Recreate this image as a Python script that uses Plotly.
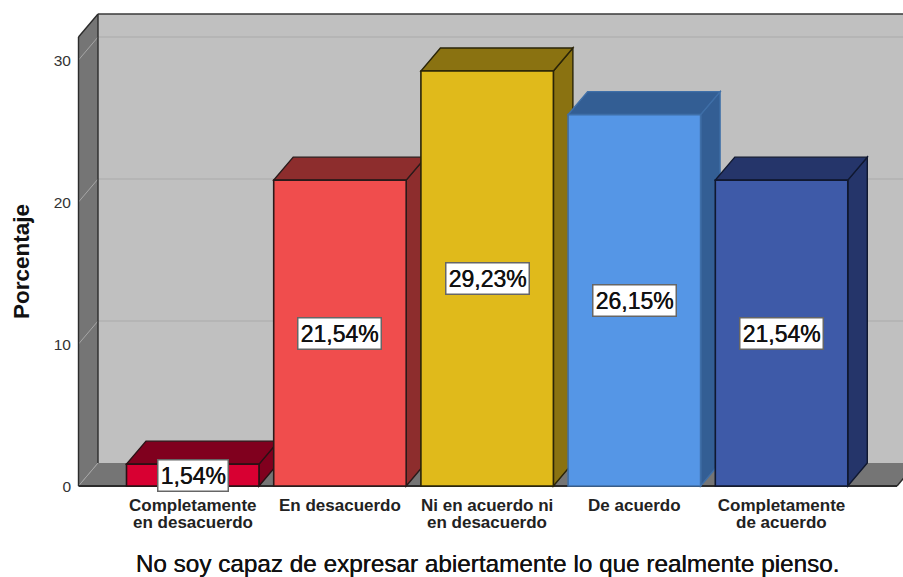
import plotly.graph_objects as go

categories_line1 = ["Completamente", "En desacuerdo", "Ni en acuerdo ni", "De acuerdo", "Completamente"]
categories_line2 = ["en desacuerdo", "", "en desacuerdo", "", "de acuerdo"]
values = [1.54, 21.54, 29.23, 26.15, 21.54]
value_labels = ["1,54%", "21,54%", "29,23%", "26,15%", "21,54%"]
y_ticks = [0, 10, 20, 30]
front_colors = ["#D80032", "#F04D4D", "#E0BA1B", "#5596E6", "#3E5AA8"]
depth_colors = ["#80001E", "#8D2D2D", "#8A7211", "#335E94", "#25356A"]
edge_colors = ["#2A1015", "#2A1A1A", "#2A2408", "#3F6FA8", "#101830"]

W, H = 903, 577
PX_X0, PX_STEP = 192.75, 147.2
PX_Y0, PX_UNIT = 486.0, 14.2
L, B = 72, 490
BAR_W = 0.9
DX = 19.5 / PX_STEP
DY = 23.0 / PX_UNIT
X_MIN = (L - PX_X0) / PX_STEP
X_MAX = (W - PX_X0) / PX_STEP
Y_MIN = (PX_Y0 - B) / PX_UNIT
Y_MAX = PX_Y0 / PX_UNIT
WALL_L = (78.5 - PX_X0) / PX_STEP
WALL_R = (897 - PX_X0) / PX_STEP
WALL_TOP = (PX_Y0 - 37) / PX_UNIT
LINE2_PAPER = (B - 522.5) / B
YTITLE_PAPER = (B - 262) / B
YTITLE_XSHIFT = 21 - L


def poly(pts, fill, line=None, w=1.4):
    path = "M " + " L ".join(f"{x:.4f},{y:.4f}" for x, y in pts) + " Z"
    return dict(type="path", path=path, xref="x", yref="y", fillcolor=fill,
                line=dict(color=line or fill, width=w if line else 0), layer="below")


def seg(x0, y0, x1, y1, color, w=1.4):
    return dict(type="line", x0=x0, y0=y0, x1=x1, y1=y1, xref="x", yref="y",
                line=dict(color=color, width=w), layer="below")


shapes = [
    poly([(WALL_L + DX, DY), (WALL_R + DX, DY), (WALL_R + DX, WALL_TOP + DY), (WALL_L + DX, WALL_TOP + DY)], "#C0C0C0"),
    poly([(WALL_L, 0), (WALL_R, 0), (WALL_R + DX, DY), (WALL_L + DX, DY)], "#757575"),
    poly([(WALL_L, 0), (WALL_L + DX, DY), (WALL_L + DX, WALL_TOP + DY), (WALL_L, WALL_TOP)], "#757575"),
]
for t in y_ticks:
    shapes.append(seg(WALL_L, t, WALL_L + DX, t + DY, "#A6A6A6", 1))
    if t:
        shapes.append(seg(WALL_L + DX, t + DY, WALL_R + DX, t + DY, "#B2B2B2", 1.4))
shapes += [
    seg(WALL_L, 0, WALL_L, WALL_TOP, "#2B2B2B"),
    seg(WALL_L, WALL_TOP, WALL_L + DX, WALL_TOP + DY, "#2B2B2B"),
    seg(WALL_L + DX, DY, WALL_L + DX, WALL_TOP + DY, "#2B2B2B"),
    seg(WALL_L + DX, WALL_TOP + DY, WALL_R + DX, WALL_TOP + DY, "#3A3A3A"),
    seg(WALL_L, 0, WALL_R, 0, "#2B2B2B", 2),
    seg(WALL_R, 0, WALL_R + DX, DY, "#2B2B2B"),
]
for i, v in enumerate(values):
    x0, x1 = i - BAR_W / 2, i + BAR_W / 2
    shapes.append(poly([(x1, 0), (x1 + DX, DY), (x1 + DX, v + DY), (x1, v)], depth_colors[i], edge_colors[i]))
    shapes.append(poly([(x0, v), (x1, v), (x1 + DX, v + DY), (x0 + DX, v + DY)], depth_colors[i], edge_colors[i]))

fig = go.Figure(go.Bar(
    x=list(range(len(values))), y=values, width=BAR_W, cliponaxis=False,
    marker=dict(color=front_colors, line=dict(color=edge_colors, width=1.6)),
    hoverinfo="skip",
))

annotations = []
for i, (v, lab) in enumerate(zip(values, value_labels)):
    annotations.append(dict(x=i, y=v / 2, xref="x", yref="y", text=lab, showarrow=False,
                            font=dict(family="Liberation Sans", size=23, color="#111111",
                                      shadow="0.5px 0 0 #111111"),
                            bgcolor="white", bordercolor="#666666", borderwidth=1.5, borderpad=2))
    if categories_line2[i]:
        annotations.append(dict(x=i, y=LINE2_PAPER, xref="x", yref="paper", text=categories_line2[i],
                                showarrow=False, yanchor="middle",
                                font=dict(family="Liberation Sans", size=17, color="#222222", weight="bold")))
annotations.append(dict(x=0, y=YTITLE_PAPER, xref="paper", yref="paper", text="Porcentaje", textangle=-90,
                        showarrow=False, xshift=YTITLE_XSHIFT, yanchor="middle", xanchor="center",
                        font=dict(family="Liberation Sans", size=22.5, color="#111111", weight="bold")))

fig.update_layout(
    width=W, height=H, autosize=False, showlegend=False,
    paper_bgcolor="white", plot_bgcolor="white",
    margin=dict(l=L, r=0, t=0, b=H - B, pad=0),
    shapes=shapes, annotations=annotations,
    font=dict(family="Liberation Sans"),
    xaxis=dict(range=[X_MIN, X_MAX], tickvals=list(range(5)), ticktext=categories_line1,
               tickfont=dict(size=17, color="#222222", weight="bold"),
               showgrid=False, zeroline=False, showline=False, ticks="", ticklabelstandoff=3,
               title=dict(text="No soy capaz de expresar abiertamente lo que realmente pienso.",
                          font=dict(size=24.3, color="#111111", shadow="0.4px 0 0 #111111"), standoff=42)),
    yaxis=dict(range=[Y_MIN, Y_MAX], tickvals=y_ticks, ticktext=[str(t) for t in y_ticks],
               tickfont=dict(size=15.5, color="#333333"), ticklabelshift=1,
               showgrid=False, zeroline=False, showline=False, ticks=""),
)
fig.write_html("out.html", config={"displayModeBar": False},
               post_script="document.body.style.margin='0';document.body.style.overflow='hidden';")
